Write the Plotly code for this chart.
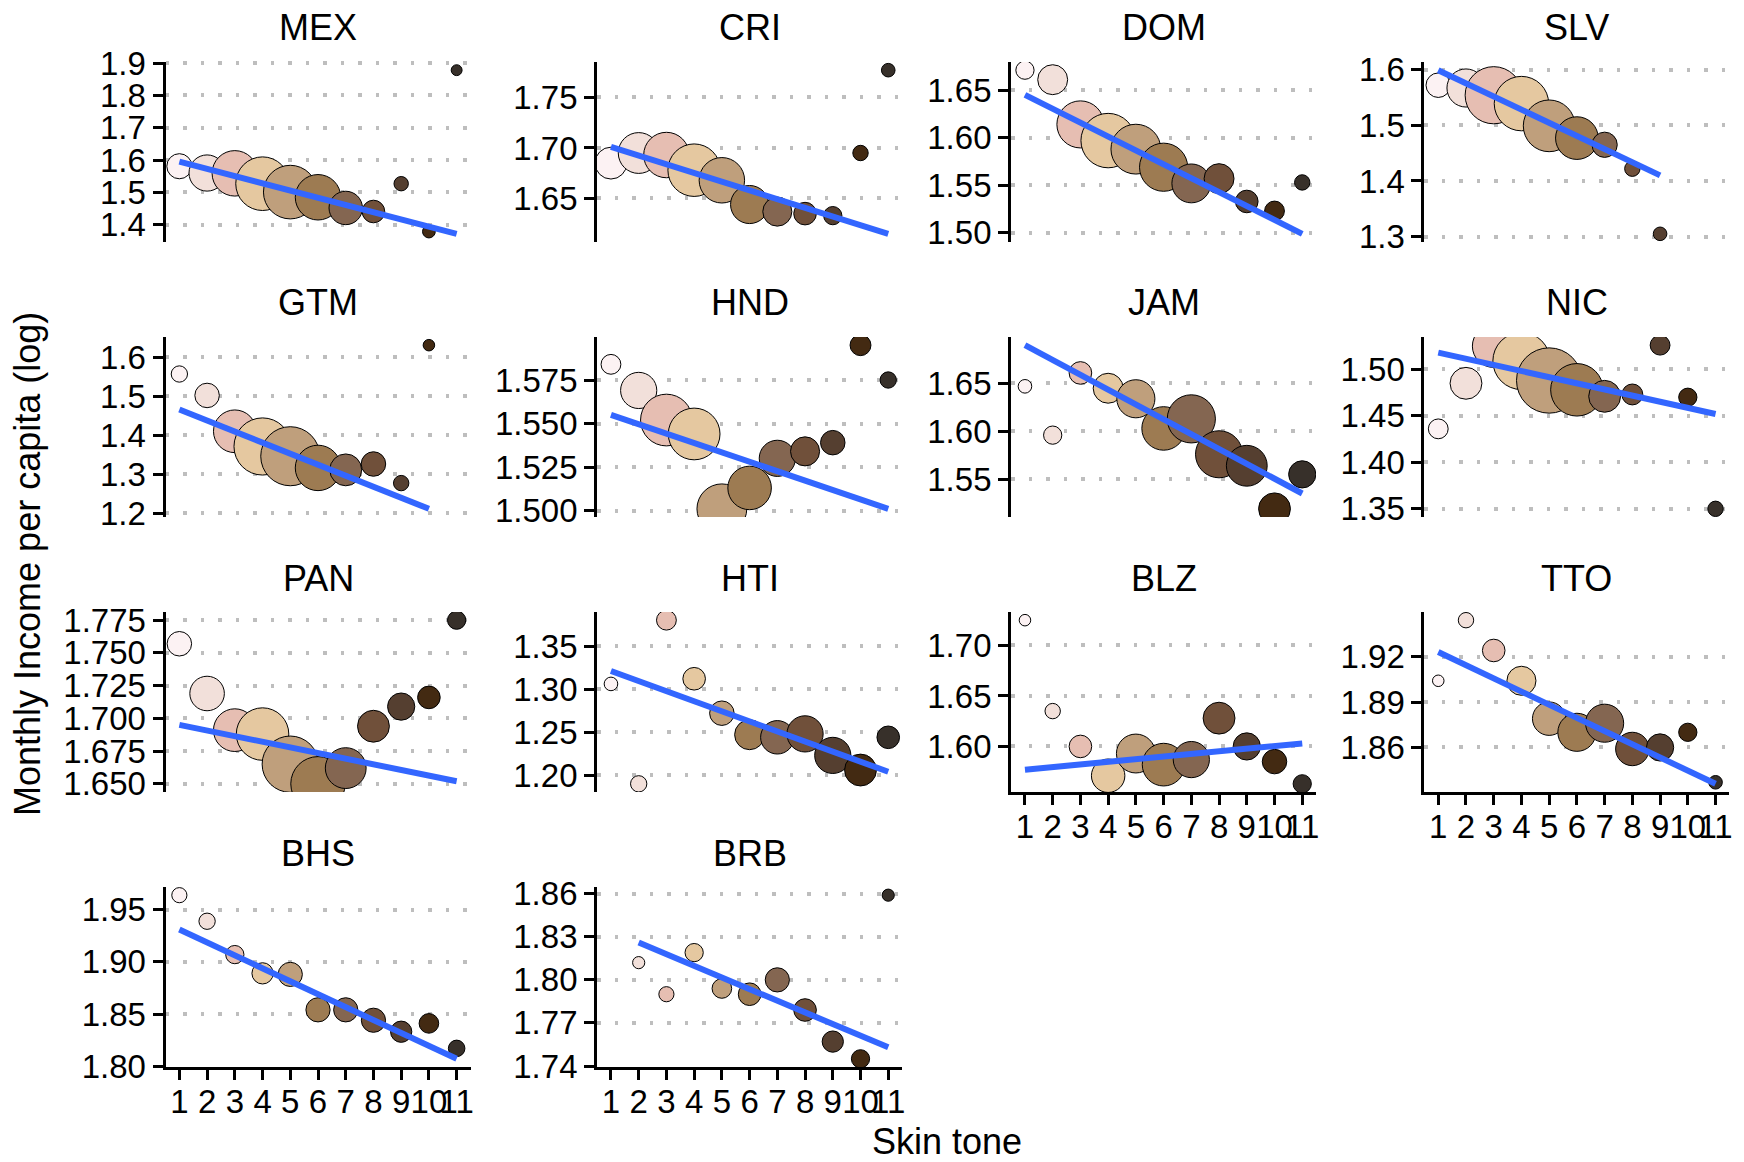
import plotly.graph_objects as go

# ---------------- data ----------------
countries = ["MEX", "CRI", "DOM", "SLV", "GTM", "HND", "JAM", "NIC",
             "PAN", "HTI", "BLZ", "TTO", "BHS", "BRB"]

tone_colors = ["#FCF2F3", "#F2E0DA", "#E6BEB2", "#E5C8A0", "#BF9F7C", "#9D7B52",
               "#846651", "#70503A", "#553F30", "#432A12", "#37302A"]

x_tick_labels = ["1", "2", "3", "4", "5", "6", "7", "8", "9", "10", "11"]

tone_MEX = [1, 2, 3, 4, 5, 6, 7, 8, 9, 10, 11]
inc_MEX = [1.581, 1.560, 1.559, 1.527, 1.501, 1.485, 1.452, 1.441, 1.527, 1.379, 1.878]
n_MEX = [85, 177, 279, 388, 388, 279, 151, 69, 28, 22, 16]
fit_MEX = [1.595, 1.372]
yt_MEX = ["1.4", "1.5", "1.6", "1.7", "1.8", "1.9"]

tone_CRI = [1, 2, 3, 4, 5, 6, 7, 8, 9, 10, 11]
inc_CRI = [1.685, 1.695, 1.693, 1.678, 1.668, 1.644, 1.637, 1.635, 1.633, 1.695, 1.777]
n_CRI = [137, 225, 279, 372, 279, 196, 114, 69, 45, 32, 25]
fit_CRI = [1.701, 1.615]
yt_CRI = ["1.65", "1.70", "1.75"]

tone_DOM = [1, 2, 3, 4, 5, 6, 7, 8, 9, 10, 11]
inc_DOM = [1.671, 1.661, 1.614, 1.597, 1.588, 1.569, 1.552, 1.557, 1.533, 1.523, 1.553]
n_DOM = [45, 121, 299, 400, 335, 313, 204, 121, 69, 53, 32]
fit_DOM = [1.645, 1.499]
yt_DOM = ["1.50", "1.55", "1.60", "1.65"]

tone_SLV = [1, 2, 3, 4, 5, 6, 7, 8, 9]
inc_SLV = [1.572, 1.567, 1.554, 1.539, 1.499, 1.477, 1.465, 1.422, 1.305]
n_SLV = [81, 196, 441, 400, 361, 246, 86, 32, 25]
fit_SLV = [1.599, 1.410]
yt_SLV = ["1.3", "1.4", "1.5", "1.6"]

tone_GTM = [1, 2, 3, 4, 5, 6, 7, 8, 9, 10]
inc_GTM = [1.557, 1.502, 1.410, 1.371, 1.346, 1.316, 1.311, 1.326, 1.277, 1.631]
n_GTM = [36, 81, 246, 441, 471, 279, 137, 81, 32, 18]
fit_GTM = [1.466, 1.211]
yt_GTM = ["1.2", "1.3", "1.4", "1.5", "1.6"]

tone_HND = [1, 2, 3, 4, 5, 6, 7, 8, 9, 10, 11]
inc_HND = [1.584, 1.569, 1.552, 1.544, 1.501, 1.513, 1.530, 1.534, 1.539, 1.595, 1.575]
n_HND = [53, 177, 361, 361, 335, 256, 177, 114, 81, 59, 36]
fit_HND = [1.555, 1.501]
yt_HND = ["1.500", "1.525", "1.550", "1.575"]

tone_JAM = [1, 2, 3, 4, 5, 6, 7, 8, 9, 10, 11]
inc_JAM = [1.647, 1.596, 1.661, 1.645, 1.634, 1.603, 1.613, 1.576, 1.564, 1.519, 1.555]
n_JAM = [25, 45, 69, 121, 196, 256, 313, 299, 225, 137, 100]
fit_JAM = [1.690, 1.535]
yt_JAM = ["1.55", "1.60", "1.65"]

tone_NIC = [1, 2, 3, 4, 5, 6, 7, 8, 9, 10, 11]
inc_NIC = [1.436, 1.485, 1.525, 1.509, 1.488, 1.478, 1.471, 1.473, 1.526, 1.470, 1.350]
n_NIC = [53, 137, 246, 441, 576, 372, 137, 59, 53, 45, 32]
fit_NIC = [1.518, 1.452]
yt_NIC = ["1.35", "1.40", "1.45", "1.50"]

tone_PAN = [1, 2, 3, 4, 5, 6, 7, 8, 9, 10, 11]
inc_PAN = [1.757, 1.719, 1.691, 1.688, 1.665, 1.650, 1.662, 1.694, 1.709, 1.716, 1.775]
n_PAN = [81, 161, 246, 372, 428, 400, 225, 137, 100, 69, 45]
fit_PAN = [1.695, 1.652]
yt_PAN = ["1.650", "1.675", "1.700", "1.725", "1.750", "1.775"]

tone_HTI = [1, 2, 3, 4, 5, 6, 7, 8, 9, 10, 11]
inc_HTI = [1.306, 1.190, 1.380, 1.312, 1.272, 1.247, 1.244, 1.248, 1.223, 1.206, 1.244]
n_HTI = [25, 36, 53, 69, 81, 121, 151, 177, 177, 137, 69]
fit_HTI = [1.321, 1.204]
yt_HTI = ["1.20", "1.25", "1.30", "1.35"]

tone_BLZ = [1, 2, 3, 4, 5, 6, 7, 8, 9, 10, 11]
inc_BLZ = [1.725, 1.635, 1.600, 1.571, 1.593, 1.582, 1.587, 1.628, 1.600, 1.585, 1.563]
n_BLZ = [18, 32, 69, 151, 204, 246, 177, 137, 100, 81, 45]
fit_BLZ = [1.577, 1.603]
yt_BLZ = ["1.60", "1.65", "1.70"]

tone_TTO = [1, 2, 3, 4, 5, 6, 7, 8, 9, 10, 11]
inc_TTO = [1.904, 1.944, 1.924, 1.904, 1.879, 1.870, 1.876, 1.859, 1.860, 1.870, 1.837]
n_TTO = [18, 32, 69, 114, 151, 196, 196, 151, 100, 45, 25]
fit_TTO = [1.923, 1.836]
yt_TTO = ["1.86", "1.89", "1.92"]

tone_BHS = [1, 2, 3, 4, 5, 6, 7, 8, 9, 10, 11]
inc_BHS = [1.964, 1.939, 1.907, 1.889, 1.888, 1.854, 1.854, 1.844, 1.833, 1.841, 1.817]
n_BHS = [31, 36, 45, 61, 79, 79, 79, 79, 61, 52, 37]
fit_BHS = [1.931, 1.807]
yt_BHS = ["1.80", "1.85", "1.90", "1.95"]

tone_BRB = [2, 3, 4, 5, 6, 7, 8, 9, 10, 11]
inc_BRB = [1.812, 1.790, 1.819, 1.794, 1.790, 1.800, 1.779, 1.757, 1.745, 1.859]
n_BRB = [20, 31, 45, 52, 69, 79, 69, 61, 45, 20]
fit_BRB = [1.826, 1.753]
yt_BRB = ["1.74", "1.77", "1.80", "1.83", "1.86"]

panels = {
    "MEX": (tone_MEX, inc_MEX, n_MEX, fit_MEX, yt_MEX),
    "CRI": (tone_CRI, inc_CRI, n_CRI, fit_CRI, yt_CRI),
    "DOM": (tone_DOM, inc_DOM, n_DOM, fit_DOM, yt_DOM),
    "SLV": (tone_SLV, inc_SLV, n_SLV, fit_SLV, yt_SLV),
    "GTM": (tone_GTM, inc_GTM, n_GTM, fit_GTM, yt_GTM),
    "HND": (tone_HND, inc_HND, n_HND, fit_HND, yt_HND),
    "JAM": (tone_JAM, inc_JAM, n_JAM, fit_JAM, yt_JAM),
    "NIC": (tone_NIC, inc_NIC, n_NIC, fit_NIC, yt_NIC),
    "PAN": (tone_PAN, inc_PAN, n_PAN, fit_PAN, yt_PAN),
    "HTI": (tone_HTI, inc_HTI, n_HTI, fit_HTI, yt_HTI),
    "BLZ": (tone_BLZ, inc_BLZ, n_BLZ, fit_BLZ, yt_BLZ),
    "TTO": (tone_TTO, inc_TTO, n_TTO, fit_TTO, yt_TTO),
    "BHS": (tone_BHS, inc_BHS, n_BHS, fit_BHS, yt_BHS),
    "BRB": (tone_BRB, inc_BRB, n_BRB, fit_BRB, yt_BRB),
}

# ---------------- layout geometry ----------------
W, H = 1744, 1162
COL_LEFT = [165.5, 597.1, 1011.1, 1424.4]
PANEL_W = 305
ROW_TOP = [62, 337, 612, 887]
PANEL_H = 180
BOTTOM_PANELS = {"BLZ", "TTO", "BHS", "BRB"}

FONT = "Liberation Sans, Arial, Helvetica, sans-serif"
TICK_SIZE = 33
TITLE_SIZE = 36

fig = go.Figure()
layout = dict(
    width=W, height=H,
    margin=dict(l=0, r=0, t=0, b=0, pad=0, autoexpand=False),
    paper_bgcolor="white", plot_bgcolor="white",
    showlegend=False,
    font=dict(family=FONT, color="black"),
)
annotations = []

for i, c in enumerate(countries):
    tone, inc, n, fit, yt = panels[c]
    row, col = divmod(i, 4)
    suf = "" if i == 0 else str(i + 1)
    x0 = COL_LEFT[col]
    top = ROW_TOP[row]

    fig.add_trace(go.Scatter(
        x=tone, y=inc, mode="markers",
        marker=dict(size=n, sizemode="area", sizeref=0.27,
                    color=[tone_colors[t - 1] for t in tone],
                    line=dict(color="black", width=1), opacity=1),
        xaxis="x" + suf, yaxis="y" + suf, hoverinfo="skip"))
    fig.add_trace(go.Scatter(
        x=[min(tone), max(tone)], y=fit, mode="lines",
        line=dict(color="#3366FF", width=6),
        xaxis="x" + suf, yaxis="y" + suf, hoverinfo="skip"))

    vals = list(inc) + list(fit)
    lo, hi = min(vals), max(vals)
    pad = 0.05 * (hi - lo)

    xa = dict(domain=[x0 / W, (x0 + PANEL_W) / W], range=[0.5, 11.5],
              anchor="y" + suf, showgrid=False, zeroline=False, automargin=False)
    if c in BOTTOM_PANELS:
        xa.update(showline=True, linecolor="black", linewidth=3,
                  ticks="outside", ticklen=10, tickwidth=3, tickcolor="black",
                  tickmode="array", tickvals=list(range(1, 12)),
                  ticktext=x_tick_labels, tickangle=0, ticklabelstandoff=-7,
                  tickfont=dict(size=TICK_SIZE, family=FONT, color="black"))
    else:
        xa.update(showline=False, ticks="", showticklabels=False)

    ya = dict(domain=[1 - (top + PANEL_H) / H, 1 - top / H],
              range=[lo - pad, hi + pad], anchor="x" + suf, automargin=False,
              showline=True, linecolor="black", linewidth=3,
              ticks="outside", ticklen=10, tickwidth=3, tickcolor="black",
              tickmode="array", tickvals=[float(s) for s in yt], ticktext=yt,
              tickfont=dict(size=TICK_SIZE, family=FONT, color="black"),
              showgrid=True, gridcolor="#BEBEBE", gridwidth=3.5,
              griddash="3.5px,14px", zeroline=False)

    layout["xaxis" + suf] = xa
    layout["yaxis" + suf] = ya

    annotations.append(dict(
        text=c, x=(x0 + PANEL_W / 2) / W, y=1 - (top - 34) / H,
        xref="paper", yref="paper", xanchor="center", yanchor="middle",
        showarrow=False, font=dict(size=TITLE_SIZE, family=FONT, color="black")))

annotations.append(dict(
    text="Monthly Income per capita (log)", x=28 / W, y=1 - 564 / H,
    xref="paper", yref="paper", xanchor="center", yanchor="middle",
    textangle=-90, showarrow=False,
    font=dict(size=TITLE_SIZE, family=FONT, color="black")))
annotations.append(dict(
    text="Skin tone", x=947 / W, y=1 - 1141 / H,
    xref="paper", yref="paper", xanchor="center", yanchor="middle",
    showarrow=False, font=dict(size=TITLE_SIZE, family=FONT, color="black")))

layout["annotations"] = annotations
fig.update_layout(**layout)
fig.write_html("out.html")
